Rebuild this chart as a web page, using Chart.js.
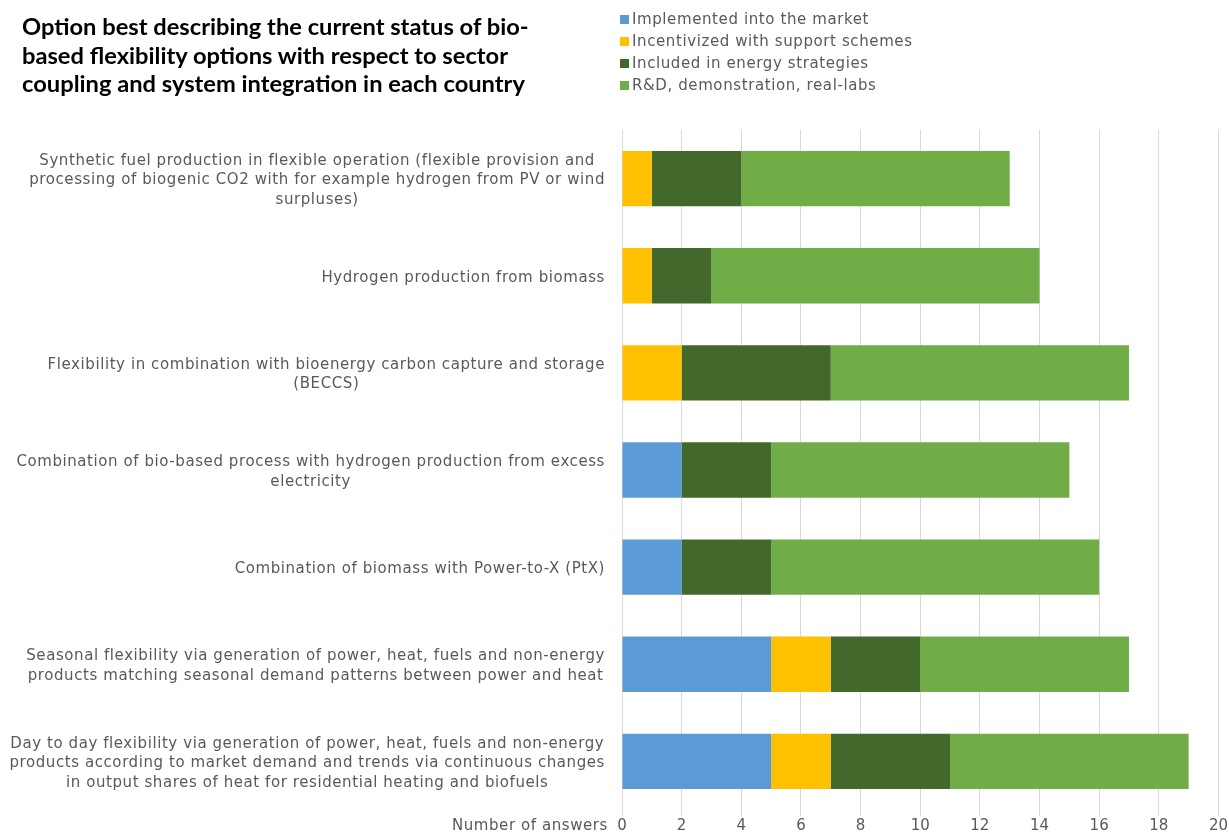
<!DOCTYPE html>
<html>
<head>
<meta charset="utf-8">
<script src="https://cdn.jsdelivr.net/npm/chart.js@4.4.0/dist/chart.umd.min.js"></script>
<style>
  body { margin: 0; background: #fff; }
  #wrap { position: relative; width: 1229px; height: 834px; }
  #title { position: absolute; left: 22px; top: 12px; font-family: "Lato", sans-serif; font-weight: bold; font-size: 23.7px; line-height: 28.5px; color: #000; }
  #legend { position: absolute; left: 620px; top: 8px; font-family: "DejaVu Sans", sans-serif; font-size: 15px; letter-spacing: 0.6px; color: #595959; }
  #legend div { height: 22px; line-height: 22px; white-space: nowrap; }
  #legend span { display: inline-block; width: 9px; height: 9px; margin-right: 3px; }
</style>
</head>
<body>
<div id="wrap">
  <canvas id="bars" width="1229" height="834"></canvas>
  <div id="title">Option best describing the current status of bio-<br>based flexibility options with respect to sector<br>coupling and system integration in each country</div>
  <div id="legend"></div>
</div>
<script>
const categories = [
  ["Synthetic fuel production in flexible operation (flexible provision and", "processing of biogenic CO2 with for example hydrogen from PV or wind", "surpluses)"],
  ["Hydrogen production from biomass"],
  ["Flexibility in combination with bioenergy carbon capture and storage", "(BECCS)"],
  ["Combination of bio-based process with hydrogen production from excess", "electricity"],
  ["Combination of biomass with Power-to-X (PtX)"],
  ["Seasonal flexibility via generation of power, heat, fuels and non-energy", "products matching seasonal demand patterns between power and heat"],
  ["Day to day flexibility via generation of power, heat, fuels and non-energy", "products according to market demand and trends via continuous changes", "in output shares of heat for residential heating and biofuels"]
];
const implemented = [0, 0, 0, 2, 2, 5, 5];
const incentivized = [1, 1, 2, 0, 0, 2, 2];
const strategies = [3, 2, 5, 3, 3, 3, 4];
const research = [9, 11, 10, 10, 11, 7, 8];
const seriesNames = ["Implemented into the market", "Incentivized with support schemes", "Included in energy strategies", "R&D, demonstration, real-labs"];
const seriesColors = ["#5B9BD5", "#FFC000", "#43682B", "#70AD47"];
const xTicks = [0, 2, 4, 6, 8, 10, 12, 14, 16, 18, 20];

const labelFont = '15px "DejaVu Sans", sans-serif';
const textGray = "#595959";

// y labels: each block centred on itself, block right-aligned to the axis
const yLabels = {
  id: "yLabels",
  afterDraw(chart) {
    const ctx = chart.ctx;
    const y = chart.scales.y;
    const right = chart.chartArea.left - 17;
    ctx.save();
    ctx.font = labelFont;
    ctx.letterSpacing = "0.58px";
    ctx.fillStyle = textGray;
    ctx.textAlign = "center";
    ctx.textBaseline = "middle";
    categories.forEach((lines, i) => {
      const w = Math.max(...lines.map(l => ctx.measureText(l).width));
      const cx = right - w / 2;
      const cy = y.getPixelForValue(i) + 2;
      const lh = 19.5;
      lines.forEach((l, j) => {
        ctx.fillText(l, cx, cy + (j - (lines.length - 1) / 2) * lh);
      });
    });
    // axis caption left of the 0 tick
    ctx.textAlign = "right";
    ctx.fillText("Number of answers", chart.scales.x.getPixelForValue(0) - 14, 826);
    ctx.restore();
  }
};

const series = [implemented, incentivized, strategies, research];
const ctx = document.getElementById("bars").getContext("2d");
const myChart = new Chart(ctx, {
  type: "bar",
  data: {
    labels: categories,
    datasets: series.map((d, i) => ({
      label: seriesNames[i],
      data: d,
      backgroundColor: seriesColors[i],
      borderWidth: 0,
      barPercentage: 0.57,
      categoryPercentage: 1
    }))
  },
  options: {
    indexAxis: "y",
    responsive: false,
    animation: false,
    layout: { padding: { top: 130, left: 622, right: 10, bottom: 0 } },
    plugins: { legend: { display: false }, tooltip: { enabled: false } },
    scales: {
      x: {
        stacked: true,
        min: 0,
        max: 20,
        afterBuildTicks: scale => { scale.ticks = xTicks.map(v => ({ value: v })); },
        afterFit: scale => { scale.height = 24; },
        grid: { color: "#D9D9D9", lineWidth: 1, tickLength: 6 },
        border: { display: false },
        ticks: { color: textGray, font: { family: "DejaVu Sans", size: 15 }, padding: 1, maxRotation: 0 }
      },
      y: {
        stacked: true,
        display: false
      }
    }
  },
  plugins: [yLabels]
});

// html legend from the datasets
document.getElementById("legend").innerHTML = seriesNames.map((n, i) =>
  '<div><span style="background:' + seriesColors[i] + '"></span>' + n.replace("&", "&amp;") + '</div>').join("");
</script>
</body>
</html>
